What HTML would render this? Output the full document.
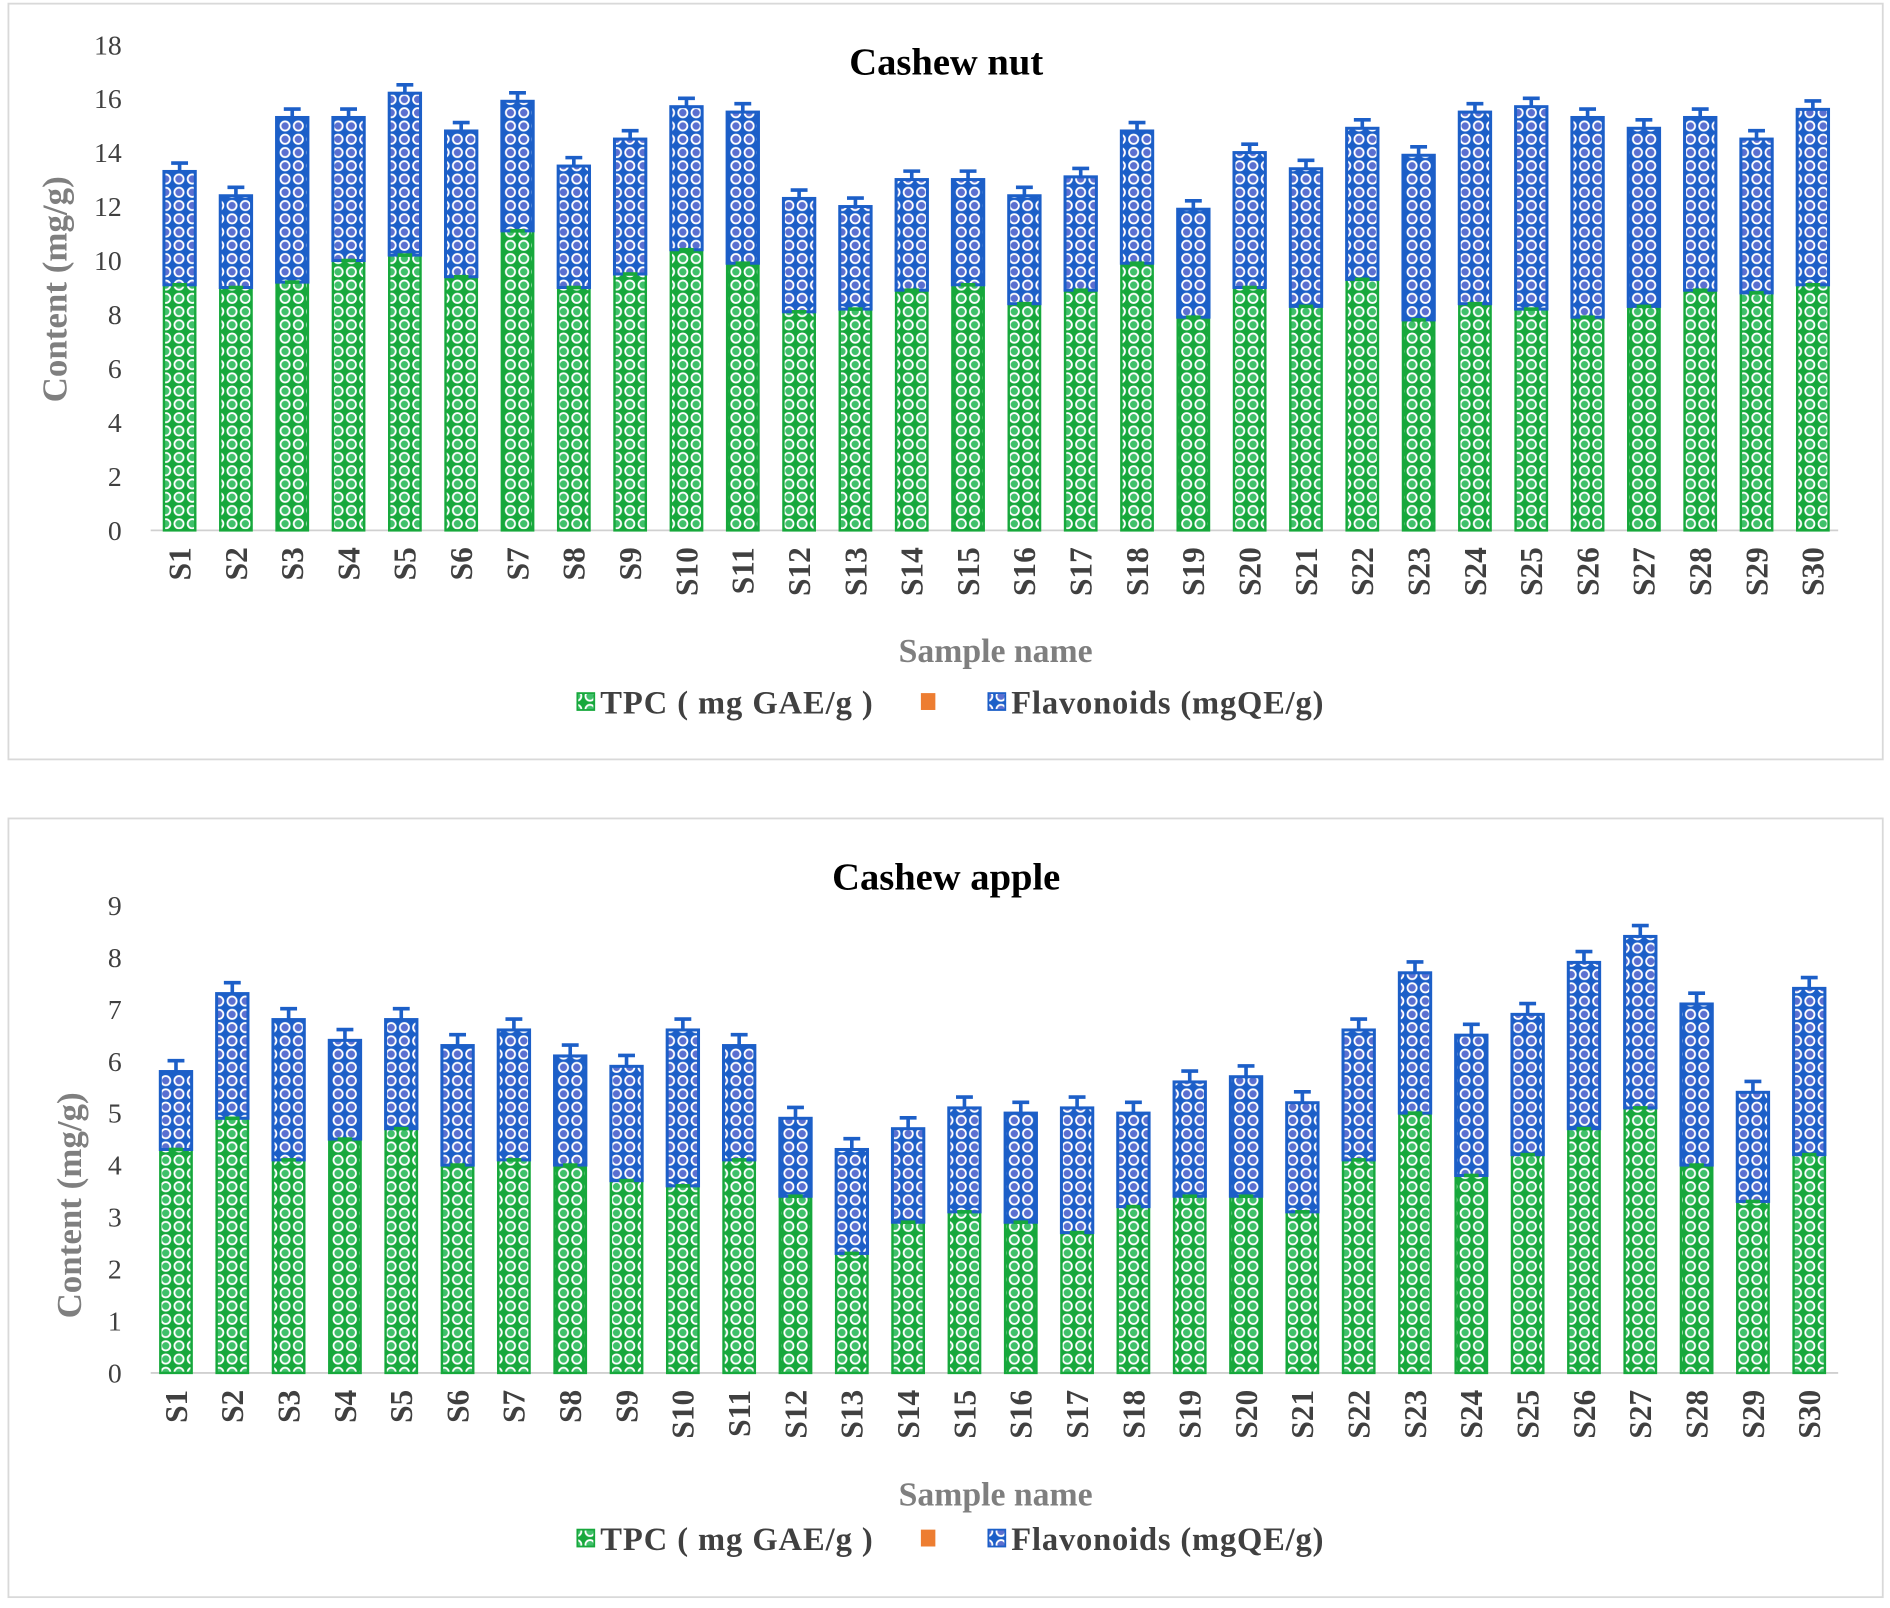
<!DOCTYPE html>
<html><head><meta charset="utf-8"><style>
html,body{margin:0;padding:0;background:#fff;}
svg{display:block;}
text{font-family:"Liberation Serif",serif;}
</style></head><body>
<svg id="fig" width="1890" height="1608" viewBox="0 0 1568 1334" xmlns="http://www.w3.org/2000/svg">
<defs>
<pattern id="pg" width="11" height="11" patternUnits="userSpaceOnUse">
<rect width="11" height="11" fill="#17a83c"/>
<circle cx="5.5" cy="5.5" r="3.8" fill="#3fc06a" stroke="#ffffff" stroke-width="1.5"/>
</pattern>
<pattern id="pb" width="11" height="11" patternUnits="userSpaceOnUse">
<rect width="11" height="11" fill="#1c5fc8"/>
<circle cx="5.5" cy="5.5" r="3.8" fill="#5a6fd0" stroke="#ffffff" stroke-width="1.5"/>
</pattern>
</defs>
<rect x="7" y="3" width="1555" height="627" fill="#fff" stroke="#d9d9d9" stroke-width="1.5"/>
<rect x="7" y="679" width="1555" height="646" fill="#fff" stroke="#d9d9d9" stroke-width="1.5"/>
<g id="c1"></g>
<g id="c2"></g>
</svg>
<script>
const categories = Array.from({length:30},(_,i)=>'S'+(i+1));
const nutTPC = [9.1,9.0,9.2,10.0,10.2,9.4,11.1,9.0,9.5,10.4,9.9,8.1,8.2,8.9,9.1,8.4,8.9,9.9,7.9,9.0,8.3,9.3,7.8,8.4,8.2,7.9,8.3,8.9,8.8,9.1];
const nutFlav = [4.2,3.4,6.1,5.3,6.0,5.4,4.8,4.5,5.0,5.3,5.6,4.2,3.8,4.1,3.9,4.0,4.2,4.9,4.0,5.0,5.1,5.6,6.1,7.1,7.5,7.4,6.6,6.4,5.7,6.5];
const nutTicks = [0,2,4,6,8,10,12,14,16,18];
const appleTPC = [4.3,4.9,4.1,4.5,4.7,4.0,4.1,4.0,3.7,3.6,4.1,3.4,2.3,2.9,3.1,2.9,2.7,3.2,3.4,3.4,3.1,4.1,5.0,3.8,4.2,4.7,5.1,4.0,3.3,4.2];
const appleFlav = [1.5,2.4,2.7,1.9,2.1,2.3,2.5,2.1,2.2,3.0,2.2,1.5,2.0,1.8,2.0,2.1,2.4,1.8,2.2,2.3,2.1,2.5,2.7,2.7,2.7,3.2,3.3,3.1,2.1,3.2];
const appleTicks = [0,1,2,3,4,5,6,7,8,9];
const NS='http://www.w3.org/2000/svg';
function mk(p,tag,a,txt){const e=document.createElementNS(NS,tag);for(const k in a)e.setAttribute(k,a[k]);if(txt!==undefined)e.textContent=txt;p.appendChild(e);return e;}
function draw(g,cfg){
  const y=v=>cfg.y0-(v-0)*(cfg.y0-cfg.yTop)/cfg.ymax;
  const x=i=>cfg.x0+i*(cfg.x1-cfg.x0)/(categories.length-1);
  const bw=26;
  const t=mk(g,'text',{x:785,y:cfg.titleY,'text-anchor':'middle','font-size':32,'font-weight':'bold',fill:'#000'},cfg.title);
  
  
  cfg.ticks.forEach(v=>{
    const tl=mk(g,'text',{x:101,y:y(v)+8,'text-anchor':'end','font-size':23,fill:'#404040','font-family':'Liberation Sans'},String(v));
    
    
  });
  const ax=mk(g,'line',{x1:125,x2:1525,y1:cfg.y0,y2:cfg.y0,stroke:'#d0d0d0','stroke-width':1.5});
  
  
  const yt=mk(g,'text',{transform:`translate(${cfg.ylx},${cfg.yly}) rotate(-90)`,'text-anchor':'middle','font-size':29,'font-weight':'bold',fill:'#7f7f7f'},'Content (mg/g)');
  
  
  categories.forEach((c,i)=>{
    const a=cfg.tpc[i],b=cfg.flav[i],cx=x(i);
    const r1=mk(g,'rect',{x:cx-bw/2,y:y(a),width:bw,height:y(0)-y(a),fill:'url(#pg)',stroke:'#17a83c','stroke-width':2});
    
    
    const r2=mk(g,'rect',{x:cx-bw/2,y:y(a+b),width:bw,height:y(a)-y(a+b),fill:'url(#pb)',stroke:'#1c5fc8','stroke-width':2.5});
    
    
    const top=y(a+b),e=cfg.err;
    const eb=mk(g,'path',{d:`M${cx},${top} V${top-e} M${cx-7},${top-e} H${cx+7}`,stroke:'#1c5fc8','stroke-width':3,fill:'none'});
    
    
    const tk=mk(g,'line',{x1:cx-6,x2:cx+6,y1:y(a),y2:y(a),stroke:'#17a83c','stroke-width':3});
    
    
    const xl=mk(g,'text',{transform:`translate(${cx+9},${cfg.y0+14}) rotate(-90)`,'text-anchor':'end','font-size':26,'font-weight':'bold',fill:'#404040'},c);
    
    
  });
  const xt=mk(g,'text',{x:826,y:cfg.xtY,'text-anchor':'middle','font-size':28,'font-weight':'bold',fill:'#7f7f7f'},'Sample name');
  
  
  const ly=cfg.legY;
  const l1=mk(g,'rect',{x:479,y:ly-17,width:14,height:14,fill:'url(#pg)',stroke:'#17a83c','stroke-width':1.5});
  
  
  const lt1=mk(g,'text',{x:498,y:ly,'font-size':27,'font-weight':'bold',fill:'#404040',textLength:226},'TPC ( mg GAE/g )');
  
  
  const l2=mk(g,'rect',{x:764,y:ly-17,width:12,height:14,fill:'#ed7d31'});
  
  
  const l3=mk(g,'rect',{x:820,y:ly-17,width:14,height:14,fill:'url(#pb)',stroke:'#1c5fc8','stroke-width':1.5});
  
  
  const lt3=mk(g,'text',{x:839,y:ly,'font-size':27,'font-weight':'bold',fill:'#404040',textLength:259},'Flavonoids (mgQE/g)');
  
  
}
draw(document.getElementById('c1'),{title:'Cashew nut',titleY:62,y0:440,yTop:37,ymax:18,x0:149,x1:1504,ticks:nutTicks,tpc:nutTPC,flav:nutFlav,err:7,ylx:55,yly:240,xtY:549,legY:592});
draw(document.getElementById('c2'),{title:'Cashew apple',titleY:738,y0:1139,yTop:751,ymax:9,x0:146,x1:1501,ticks:appleTicks,tpc:appleTPC,flav:appleFlav,err:9,ylx:67,yly:1000,xtY:1249,legY:1286});
</script>
</body></html>
